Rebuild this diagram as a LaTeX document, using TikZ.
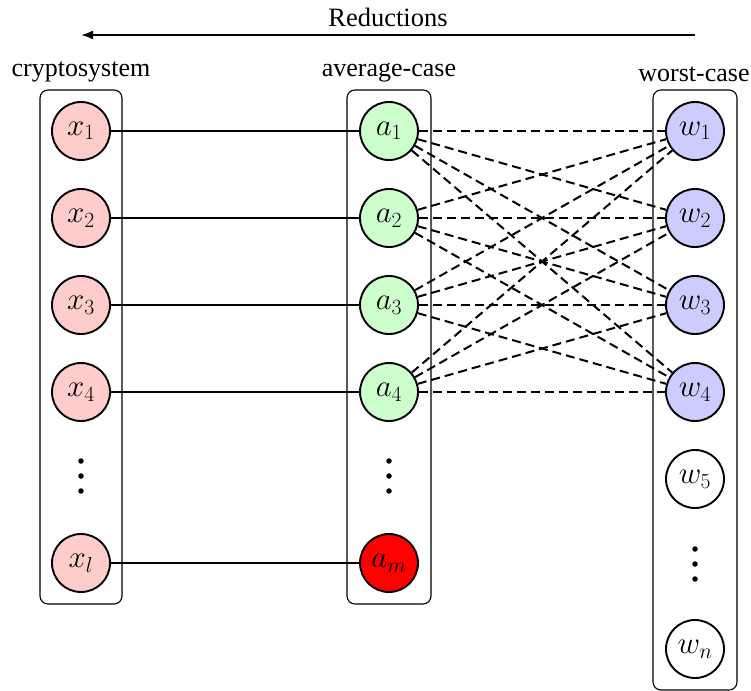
\RequirePackage{fix-cm}
\documentclass[tikz,border=0pt]{standalone}
\usepackage{fontspec}
\setmainfont{Liberation Serif}
\usetikzlibrary{fit,arrows.meta}
\begin{document}
\begin{tikzpicture}[x=1pt,y=-1pt,
  vnode/.style={circle,draw,line width=1.9pt,minimum size=58pt,inner sep=0pt,font=\fontsize{31}{36}\selectfont},
  xn/.style={vnode,fill=red!20},
  an/.style={vnode,fill=green!20},
  wn/.style={vnode,fill=blue!20},
  en/.style={vnode,fill=white},
  colbox/.style={draw,line width=1.1pt,rounded corners=8pt,inner sep=11pt},
  lab/.style={anchor=south,inner sep=0pt,yshift=7pt,font=\fontsize{26}{31}\selectfont},
  conn/.style={line width=1.9pt},
  dconn/.style={line width=2pt,dash pattern=on 9pt off 5pt},
  dotm/.style={circle,fill,inner sep=0pt,minimum size=5.5pt}]
\useasboundingbox (0,0) rectangle (751,690);
% boxes (drawn first)
\path (81,131) coordinate (bx1) (81,563) coordinate (bx2);
\path (389,131) coordinate (ba1) (389,563) coordinate (ba2);
\path (695,131) coordinate (bw1) (695,649) coordinate (bw2);
\node[colbox,fit={(bx1) (bx2)},inner xsep=41pt,inner ysep=41pt] (xbox) {};
\node[colbox,fit={(ba1) (ba2)},inner xsep=42pt,inner ysep=41pt] (abox) {};
\node[colbox,fit={(bw1) (bw2)},inner xsep=42pt,inner ysep=41pt] (wbox) {};
% column labels
\node[lab] (lx) at (xbox.north) {cryptosystem};
\node[lab] (la) at (abox.north) {average-case};
\node[lab,xshift=-1pt] (lw) at (wbox.north) {worst-case};
% reductions
\node[font=\fontsize{26.5}{31}\selectfont] (red) at (388,17) {Reductions};
\coordinate (rs) at (695,35);
\coordinate (re) at (81,35);
\draw[line width=1.9pt,-{Latex[length=12pt,width=9pt]}] (rs) -- (re);
% nodes
\node[xn] (x1) at (81,131) {$x_1$};
\node[xn] (x2) at (81,218) {$x_2$};
\node[xn] (x3) at (81,305) {$x_3$};
\node[xn] (x4) at (81,392) {$x_4$};
\node[xn] (xl) at (81,563) {$x_l$};
\node[an] (a1) at (389,131) {$a_1$};
\node[an] (a2) at (389,218) {$a_2$};
\node[an] (a3) at (389,305) {$a_3$};
\node[an] (a4) at (389,392) {$a_4$};
\node[vnode,fill=red] (am) at (389,563) {$a_m$};
\node[wn] (w1) at (695,131) {$w_1$};
\node[wn] (w2) at (695,218) {$w_2$};
\node[wn] (w3) at (695,305) {$w_3$};
\node[wn] (w4) at (695,392) {$w_4$};
\node[en] (w5) at (695,479) {$w_5$};
\node[en] (wnn) at (695,649) {$w_n$};
% vertical dots
\foreach \c/\y in {81/476,389/476,695/564}{
  \node[dotm] at (\c,\y-15) {};
  \node[dotm] at (\c,\y) {};
  \node[dotm] at (\c,\y+15) {};
}
% solid connectors
\draw[conn] (x1) -- (a1);
\draw[conn] (x2) -- (a2);
\draw[conn] (x3) -- (a3);
\draw[conn] (x4) -- (a4);
\draw[conn] (xl) -- (am);
% dashed connectors
\foreach \i in {1,...,4}{
  \foreach \j in {1,...,4}{
    \draw[dconn] (a\i) -- (w\j);
  }
}
\end{tikzpicture}
\end{document}
